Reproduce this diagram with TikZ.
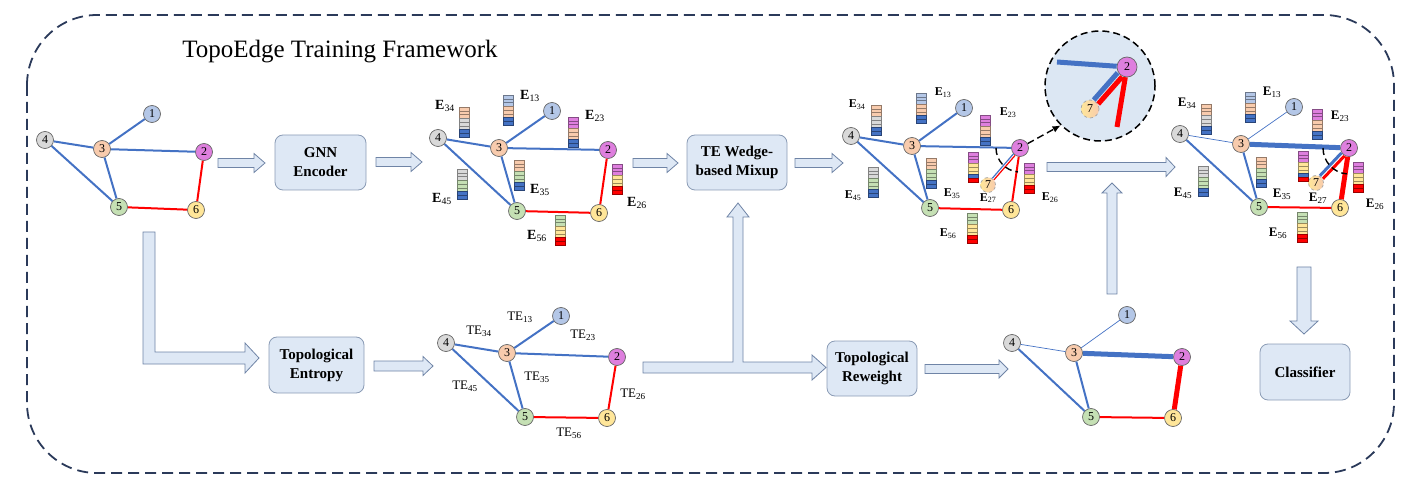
\documentclass[tikz,border=0pt]{standalone}
\usepackage{fontspec}
\setmainfont{Liberation Serif}
\usetikzlibrary{calc,arrows.meta}
\definecolor{eblue}{HTML}{4472C4}
\definecolor{ered}{HTML}{FF0000}
\definecolor{boxfill}{HTML}{DEE8F5}
\definecolor{boxline}{HTML}{8A9BB5}
\definecolor{arrline}{HTML}{6F84A6}
\definecolor{framec}{HTML}{2B3A5A}
\definecolor{cA}{HTML}{B4C7E7}
\definecolor{cB}{HTML}{DE7FDE}
\definecolor{cC}{HTML}{F8CBAD}
\definecolor{cD}{HTML}{D9D9D9}
\definecolor{cE}{HTML}{C5E0B4}
\definecolor{cF}{HTML}{FFE699}
\definecolor{zoomfill}{HTML}{DCE7F3}
\tikzset{
  gnode/.style={circle, draw=black!60, line width=0.7pt, minimum size=17pt, inner sep=0pt, font=\fontsize{12}{12}\selectfont},
  bluee/.style={draw=eblue, line width=2pt},
  rede/.style={draw=ered, line width=2pt},
  thine/.style={draw=eblue, line width=0.7pt},
  procbox/.style={draw=boxline, fill=boxfill, rounded corners=8pt, line width=0.8pt, font=\fontsize{15}{19}\selectfont\bfseries, align=center, inner sep=0pt},
  blockarrow/.style={draw=arrline, fill=boxfill, line width=0.8pt, line join=miter},
  elabel/.style={font=\fontsize{13}{13}\selectfont, inner sep=0pt},
  telabel/.style={font=\fontsize{13}{13}\selectfont, inner sep=0pt},
  cell/.style={fill=#1, draw=#1!60!black, line width=0.3pt},
  dashline/.style={draw=black, line width=1.4pt, dash pattern=on 7pt off 4pt},
}
\newcommand\ebar[5]{%
  \foreach \ii in {0,1,2} {\filldraw[cell=#2] ($(#1)+(-5,\ii*3.75)$) rectangle ++(10,3.75);}
  \foreach \ii in {3,4,5} {\filldraw[cell=#3] ($(#1)+(-5,\ii*3.75)$) rectangle ++(10,3.75);}
  \filldraw[cell=#4] ($(#1)+(-5,22.5)$) rectangle ++(10,3.75);
  \filldraw[cell=#5] ($(#1)+(-5,26.25)$) rectangle ++(10,3.75);
}
\newcommand\elab[3]{\node[elabel] (#1) at (#2) {\textbf{E}\textsubscript{#3}};}
\newcommand\tlab[3]{\node[telabel] (#1) at (#2) {TE\textsubscript{#3}};}
\newcommand\rarrow[6]{% xstart, xtip, yc, shaft half, head half, head length
  \draw[blockarrow] (#1,#3-#4) -- (#2-#6,#3-#4) -- (#2-#6,#3-#5) -- (#2,#3) -- (#2-#6,#3+#5) -- (#2-#6,#3+#4) -- (#1,#3+#4) -- cycle;}
\begin{document}
\begin{tikzpicture}[x=1pt,y=-1pt]
\useasboundingbox (0,0) rectangle (1416,494);
% frame
\draw[draw=framec, line width=1.8pt, dash pattern=on 11pt off 6pt, rounded corners=70pt] (27,15) rectangle (1394,473);
\node[font=\fontsize{25}{25}\selectfont, inner sep=0pt] (title) at (340,52) {TopoEdge Training Framework};

% ---------- graph 1
\node[gnode, fill=cA] (a1) at (152,114) {1};
\node[gnode, fill=cB] (a2) at (204,152) {2};
\node[gnode, fill=cC] (a3) at (102,149) {3};
\node[gnode, fill=cD] (a4) at (45,140) {4};
\node[gnode, fill=cE] (a5) at (119,207) {5};
\node[gnode, fill=cF] (a6) at (196,210) {6};
\draw[bluee] (a1)--(a3) (a4)--(a3) (a3)--(a2) (a4)--(a5) (a3)--(a5);
\draw[rede] (a2)--(a6) (a5)--(a6);

% boxes
\node[procbox, minimum width=91pt, minimum height=55pt] (gnn) at (320.5,162.5) {GNN\\Encoder};
\node[procbox, minimum width=100pt, minimum height=55pt] (tewm) at (737,162.5) {TE Wedge-\\based Mixup};
\node[procbox, minimum width=95pt, minimum height=56pt] (topent) at (316.5,365) {Topological\\Entropy};
\node[procbox, minimum width=90pt, minimum height=55pt] (toprew) at (872,368.5) {Topological\\Reweight};
\node[procbox, minimum width=90pt, minimum height=56pt] (clf) at (1305,372) {Classifier};

% block arrows
\rarrow{218}{265}{163}{4.5}{9.5}{11}
\rarrow{376}{422}{162}{4.5}{9.5}{11}
\rarrow{633}{678}{163}{4.5}{9.5}{11}
\rarrow{795}{843}{163}{4.5}{9.5}{11}
\rarrow{1047}{1175}{167}{4.5}{9.5}{9}
\rarrow{374}{433}{366}{5}{9.5}{10}
\rarrow{925}{1008}{369}{4.5}{9}{9}
% L arrow
\draw[blockarrow] (143,232) -- (155,232) -- (155,352) -- (245,352) -- (245,343) -- (259,358) -- (245,373) -- (245,364) -- (143,364) -- cycle;
% T arrow
\draw[blockarrow] (643,362) -- (733,362) -- (733,217) -- (727,217) -- (738,203) -- (749,217) -- (743,217) -- (743,362) -- (812,362) -- (812,355) -- (826,367.5) -- (812,380) -- (812,373) -- (643,373) -- cycle;
% up arrow from reweighted graph
\draw[blockarrow] (1107,294) -- (1107,193) -- (1102,193) -- (1112,183) -- (1122,193) -- (1117,193) -- (1117,294) -- cycle;
% down arrow to classifier
\draw[blockarrow] (1297,267) -- (1311,267) -- (1311,321) -- (1318,321) -- (1304,334) -- (1290,321) -- (1297,321) -- cycle;

% ---------- graph 2
\node[gnode, fill=cA] (b1) at (552,111) {1};
\node[gnode, fill=cB] (b2) at (608,150) {2};
\node[gnode, fill=cC] (b3) at (499,148) {3};
\node[gnode, fill=cD] (b4) at (438,138) {4};
\node[gnode, fill=cE] (b5) at (517,211) {5};
\node[gnode, fill=cF] (b6) at (599,213) {6};
\draw[bluee] (b1)--(b3) (b4)--(b3) (b3)--(b2) (b4)--(b5) (b3)--(b5);
\draw[rede] (b2)--(b6) (b5)--(b6);
\ebar{464,107}{cC}{cD}{eblue}{eblue}
\ebar{508,95}{cA}{cC}{eblue}{eblue}
\ebar{573,117}{cB}{cC}{eblue}{eblue}
\ebar{519,160}{cC}{cE}{eblue}{eblue}
\ebar{462,169}{cD}{cE}{eblue}{eblue}
\ebar{617,164}{cB}{cF}{ered}{ered}
\ebar{560,215}{cE}{cF}{ered}{ered}
\begin{scope}[elabel/.style={font=\fontsize{14}{14}\selectfont, inner sep=0pt}]
\elab{lb34}{445,106}{34}
\elab{lb13}{530,96}{13}
\elab{lb23}{595,116}{23}
\elab{lb35}{540,190}{35}
\elab{lb45}{442,199}{45}
\elab{lb26}{637,203}{26}
\elab{lb56}{537,236}{56}
\end{scope}

% ---------- graph 3
\node[gnode, fill=cA] (c1) at (964,108) {1};
\node[gnode, fill=cB] (c2) at (1020,148) {2};
\node[gnode, fill=cC] (c3) at (912,146) {3};
\node[gnode, fill=cD] (c4) at (851,136) {4};
\node[gnode, fill=cE] (c5) at (930,208) {5};
\node[gnode, fill=cF] (c6) at (1011,210) {6};
\node[gnode, left color=cF, right color=cC, draw=black!35, dashed, minimum size=15pt] (c7) at (988,185) {7};
\draw[bluee] (c1)--(c3) (c4)--(c3) (c3)--(c2) (c4)--(c5) (c3)--(c5);
\draw[rede] (c2)--(c6) (c5)--(c6);
\draw[draw=eblue, line width=1.2pt, transform canvas={xshift=-0.8pt, yshift=0.8pt}] (c2)--(c7);
\draw[draw=ered, line width=1.2pt, transform canvas={xshift=0.8pt, yshift=-0.8pt}] (c2)--(c7);
\ebar{876,105}{cC}{cD}{eblue}{eblue}
\ebar{921,93}{cA}{cC}{eblue}{eblue}
\ebar{985,115}{cB}{cC}{eblue}{eblue}
\ebar{931,158}{cC}{cE}{eblue}{eblue}
\ebar{873,167}{cD}{cE}{eblue}{eblue}
\ebar{1029,163}{cB}{cF}{ered}{ered}
\ebar{973,152}{cB}{cF}{eblue}{ered}
\ebar{972,213}{cE}{cF}{ered}{ered}
\begin{scope}[elabel/.style={font=\fontsize{12}{12}\selectfont, inner sep=0pt}]
\elab{lc34}{857,105}{34}
\elab{lc13}{943,93}{13}
\elab{lc23}{1008,113}{23}
\elab{lc35}{952,194}{35}
\elab{lc45}{853,196}{45}
\elab{lc26}{1050,198}{26}
\elab{lc27}{988,198}{27}
\elab{lc56}{948,234}{56}
\end{scope}
\draw[dashline] ($(c2)+(-24,0)$) arc[start angle=180, end angle=95, radius=24];

% ---------- zoom circle
\node[circle, draw=black, line width=1.5pt, dash pattern=on 7pt off 4pt, fill=zoomfill, minimum size=110pt, inner sep=0pt] (zoomc) at (1100,86) {};
\node[gnode, fill=cB, minimum size=20pt] (z2) at (1127,67) {2};
\node[gnode, left color=cF, right color=cC, draw=black!35, dashed, minimum size=18pt] (z7) at (1090,109) {7};
\coordinate (zb) at (1057,62);
\coordinate (zr) at (1117,127);
\draw[draw=eblue, line width=5pt] (zb) -- (z2);
\draw[draw=eblue, line width=5pt, transform canvas={xshift=-2.5pt, yshift=2pt}] (z2) -- (z7);
\draw[draw=ered, line width=5pt, transform canvas={xshift=2pt, yshift=-2pt}] (z2) -- (z7);
\draw[draw=ered, line width=5pt] (z2) -- (zr);
\draw[dashline, -{Latex[length=8pt,width=7pt]}] (c2.30) -- (zoomc.225);

% ---------- graph 4
\node[gnode, fill=cA] (d1) at (1294,107) {1};
\node[gnode, fill=cB] (d2) at (1349,148) {2};
\node[gnode, fill=cC] (d3) at (1241,144) {3};
\node[gnode, fill=cD] (d4) at (1180,134) {4};
\node[gnode, fill=cE] (d5) at (1259,207) {5};
\node[gnode, fill=cF] (d6) at (1340,208) {6};
\node[gnode, left color=cF, right color=cC, draw=black!35, dashed, minimum size=15pt] (d7) at (1316,183) {7};
\draw[thine] (d1)--(d3) (d4)--(d3);
\draw[draw=eblue, line width=5pt] (d3)--(d2);
\draw[bluee] (d4)--(d5) (d3)--(d5);
\draw[rede] (d5)--(d6);
\draw[draw=ered, line width=5pt] (d2)--(d6);
\draw[draw=eblue, line width=3pt, transform canvas={xshift=-1.5pt, yshift=1.5pt}] (d2)--(d7);
\draw[draw=ered, line width=3pt, transform canvas={xshift=1.5pt, yshift=-1.5pt}] (d2)--(d7);
\ebar{1206,104}{cC}{cD}{eblue}{eblue}
\ebar{1250,92}{cA}{cC}{eblue}{eblue}
\ebar{1317,109}{cB}{cC}{eblue}{eblue}
\ebar{1261,157}{cC}{cE}{eblue}{eblue}
\ebar{1203,166}{cD}{cE}{eblue}{eblue}
\ebar{1358,162}{cB}{cF}{ered}{ered}
\ebar{1303,151}{cB}{cF}{eblue}{ered}
\ebar{1302,212}{cE}{cF}{ered}{ered}
\begin{scope}[elabel/.style={font=\fontsize{13}{13}\selectfont, inner sep=0pt}]
\elab{ld34}{1187,103}{34}
\elab{ld13}{1272,92}{13}
\elab{ld23}{1340,116}{23}
\elab{ld35}{1282,194}{35}
\elab{ld45}{1183,193}{45}
\elab{ld26}{1375,204}{26}
\elab{ld27}{1318,198}{27}
\elab{ld56}{1278,233}{56}
\end{scope}
\draw[dashline] ($(d2)+(-26,0)$) arc[start angle=180, end angle=95, radius=26];

% ---------- TE graph
\node[gnode, fill=cA] (t1) at (561,316) {1};
\node[gnode, fill=cB] (t2) at (617,357) {2};
\node[gnode, fill=cC] (t3) at (507,353) {3};
\node[gnode, fill=cD] (t4) at (446,343) {4};
\node[gnode, fill=cE] (t5) at (525,417) {5};
\node[gnode, fill=cF] (t6) at (607,418) {6};
\draw[bluee] (t1)--(t3) (t4)--(t3) (t3)--(t2) (t4)--(t5) (t3)--(t5);
\draw[rede] (t2)--(t6) (t5)--(t6);
\tlab{tl13}{520,317}{13}
\tlab{tl34}{479,331}{34}
\tlab{tl23}{583,335}{23}
\tlab{tl35}{537,377}{35}
\tlab{tl45}{465,386}{45}
\tlab{tl26}{633,394}{26}
\tlab{tl56}{569,433}{56}

% ---------- reweighted graph
\node[gnode, fill=cA] (r1) at (1127,315) {1};
\node[gnode, fill=cB] (r2) at (1182,357) {2};
\node[gnode, fill=cC] (r3) at (1074,353) {3};
\node[gnode, fill=cD] (r4) at (1012,343) {4};
\node[gnode, fill=cE] (r5) at (1091,417) {5};
\node[gnode, fill=cF] (r6) at (1173,418) {6};
\draw[thine] (r1)--(r3) (r4)--(r3);
\draw[draw=eblue, line width=5pt] (r3)--(r2);
\draw[bluee] (r4)--(r5) (r3)--(r5);
\draw[rede] (r5)--(r6);
\draw[draw=ered, line width=5pt] (r2)--(r6);
\end{tikzpicture}
\end{document}
